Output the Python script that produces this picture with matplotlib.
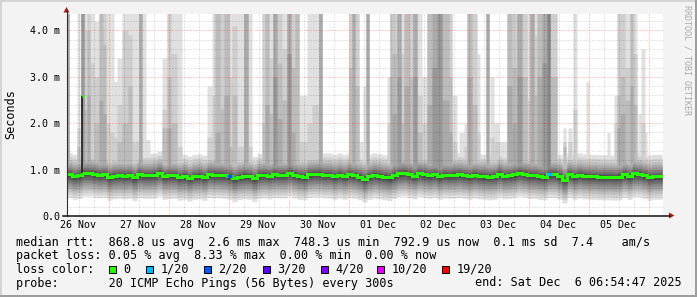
import matplotlib
matplotlib.use("Agg")
import matplotlib.pyplot as plt
from matplotlib.patches import Rectangle, Polygon
import numpy as np

W, H = 697, 297
plt.rcParams['font.family'] = ['DejaVu Sans Mono']

# time axis: hours after 26 Nov 00:00, median sampled in 2 h bins
t_start = 7.4
bin_hours = 2.0
median = [0.90, 0.86, 0.88, 0.93, 0.93, 0.91, 0.89, 0.90, 0.84, 0.87, 0.88, 0.87,
          0.88, 0.83, 0.90, 0.88, 0.88, 0.89, 0.93, 0.86, 0.88, 0.88, 0.84, 0.86,
          0.82, 0.86, 0.87, 0.84, 0.90, 0.89, 0.89, 0.88, 0.86, 0.81, 0.85, 0.87,
          0.86, 0.81, 0.88, 0.89, 0.87, 0.90, 0.89, 0.89, 0.93, 0.89, 0.86, 0.85,
          0.90, 0.91, 0.91, 0.89, 0.89, 0.86, 0.89, 0.86, 0.90, 0.88, 0.85, 0.80,
          0.86, 0.89, 0.87, 0.85, 0.83, 0.88, 0.92, 0.93, 0.90, 0.87, 0.92, 0.90,
          0.88, 0.90, 0.86, 0.89, 0.88, 0.89, 0.90, 0.88, 0.86, 0.89, 0.87, 0.86,
          0.85, 0.86, 0.91, 0.87, 0.88, 0.90, 0.93, 0.91, 0.88, 0.88, 0.86, 0.85,
          0.90, 0.90, 0.86, 0.78, 0.90, 0.86, 0.89, 0.87, 0.86, 0.86, 0.85, 0.85,
          0.85, 0.84, 0.85, 0.90, 0.86, 0.92, 0.91, 0.88, 0.84, 0.86, 0.86]
loss_bins = [32, 96]
loss_level = [2, 1]

# single high median sample on 26 Nov
med_spike_t0, med_spike_t1, med_spike_v = 13.4, 14.2, 2.59

# spread of the 20 pings around the median (ms), outermost pair first
smoke_lo = [-0.50, -0.43, -0.37, -0.31, -0.26, -0.21, -0.16, -0.11, -0.07, -0.03]
smoke_hi = [0.47, 0.38, 0.31, 0.25, 0.20, 0.15, 0.11, 0.07, 0.04, 0.02]
smoke_grey = [224, 206, 188, 170, 152, 134, 116, 98, 80, 62]

# tall outliers: start/end hour, top of the highest pings (4.6 = off scale)
spike_start = [7.4, 11.4, 13.0, 14.2, 15.4, 16.6, 18.2, 20.2, 21.8, 23.0, 24.6, 26.2,
               27.4, 29.4, 31.8, 33.4, 36.2, 37.4, 39.0, 45.4, 47.4, 49.0, 51.4,
               63.4, 65.4, 66.6, 68.6, 70.2, 72.2, 73.4, 75.4, 78.2, 79.8, 85.4, 86.6,
               88.2, 89.8, 91.4, 93.4, 95.4, 97.0, 98.6, 100.2, 103.4, 105.4, 108.2,
               120.2, 121.4, 122.6, 124.2, 125.8, 127.0, 135.4, 136.6, 137.4, 139.4,
               141.0, 142.2, 144.2, 145.8, 147.4, 149.4, 151.4, 153.4, 155.4, 157.4,
               160.2, 161.4, 164.2, 166.2, 167.4, 169.4, 171.4, 175.0, 176.6, 178.2,
               180.2, 183.4, 185.4, 187.4, 189.4, 191.4, 192.6, 194.2, 195.4, 197.4,
               199.4, 200.6, 205.8, 207.8, 209.8, 215.0, 223.4, 226.2, 227.4, 228.6,
               230.6, 232.6, 233.8, 235.8, 237.0, 238.6]
spike_end = [8.2, 12.6, 14.2, 15.4, 16.6, 18.2, 20.2, 21.8, 23.0, 24.6, 26.2, 27.4,
             29.4, 31.8, 33.4, 36.2, 37.4, 39.0, 40.6, 47.4, 49.0, 51.4, 53.4,
             65.4, 66.6, 68.6, 70.2, 72.2, 73.4, 75.4, 78.2, 79.8, 81.4, 86.6, 88.2,
             89.8, 91.4, 93.4, 95.4, 97.0, 98.6, 100.2, 103.4, 105.4, 108.2, 109.4,
             121.4, 122.6, 124.2, 125.8, 127.0, 128.2, 136.6, 137.4, 139.4, 141.0,
             142.2, 144.2, 145.8, 147.4, 149.4, 151.4, 153.4, 155.4, 157.4, 160.2,
             161.4, 163.4, 166.2, 167.4, 169.4, 171.4, 172.6, 176.2, 178.2, 180.2,
             183.4, 185.4, 187.4, 189.4, 191.4, 192.6, 194.2, 195.4, 197.4, 199.4,
             200.6, 203.4, 207.0, 209.4, 211.4, 216.2, 224.6, 227.4, 228.6, 230.6,
             232.6, 233.8, 235.4, 237.0, 238.6, 239.4]
spike_top = [
    [4.6, 4.6, 4.6, 4.6], [4.6, 1.9, 1.5], [4.6, 4.6, 4.6, 4.6, 4.6], [4.6, 4.0, 2.3],
    [4.6, 4.6, 4.0, 2.6], [4.6, 3.3], [4.2, 3.0, 2.0], [4.6, 4.6, 4.6, 2.5],
    [4.6, 4.6, 3.7, 2.2], [4.6, 2.0], [4.6, 1.8], [2.9, 1.7],
    [3.4, 2.4, 1.6], [4.6, 4.0, 2.0], [4.6, 3.9, 2.8], [4.6, 1.6], [4.6, 4.6, 4.6, 4.6],
    [4.6], [1.65], [3.4, 2.3, 1.9], [4.6, 4.6, 3.0, 1.9], [4.6, 3.5, 2.0], [4.6, 1.5],
    [2.8, 1.7], [4.6, 2.6], [4.6, 4.6, 4.6, 1.8], [4.6, 4.6, 2.3], [4.6, 4.6, 4.6, 2.6],
    [4.6, 3.0, 1.5], [4.6, 4.1, 2.6], [4.6, 1.5], [4.6, 4.6, 4.6, 4.6], [4.6, 1.5],
    [4.6, 4.6, 2.0], [4.6, 4.6, 4.6, 2.4], [4.6, 3.4, 2.2], [4.6, 4.6, 4.6, 4.6, 3.0],
    [4.6, 4.6, 3.3, 2.1], [4.6, 3.6, 2.5], [4.6, 4.6, 4.6, 4.6, 3.5], [4.6, 4.6, 3.2, 1.8],
    [4.6, 4.6, 4.6], [2.6, 1.6], [4.6, 2.0], [4.6, 2.4], [4.6, 4.6, 4.6, 4.6],
    [4.6, 4.6, 3.2], [4.6, 4.6, 4.6, 4.6], [4.6, 4.6, 2.8], [1.6], [2.8],
    [4.6, 4.6, 4.6, 4.6], [3.0, 2.0], [4.6, 4.6, 4.6, 3.0], [4.6, 4.6, 3.5, 2.2],
    [4.6, 4.6, 4.6, 4.6, 3.0], [4.6, 3.5, 2.0], [4.6, 4.6, 4.6, 2.8], [4.6, 4.6, 3.0],
    [4.6, 4.6, 4.6, 4.6, 3.0], [4.6, 2.6, 1.8], [3.0, 2.0], [4.6, 4.6, 4.6, 2.4],
    [4.6, 4.6, 4.6, 4.6, 3.2], [4.6, 4.6, 4.6, 4.6, 4.6], [4.6, 4.6, 4.6, 2.5],
    [4.6, 4.6, 3.0, 1.8], [2.6, 1.6], [1.8], [2.0, 1.5], [4.6, 4.6, 4.6, 3.0],
    [4.6, 4.6, 2.4], [3.5, 1.8], [4.6, 4.6, 4.6, 4.6], [3.0, 1.7], [2.0, 1.6],
    [1.6], [4.6, 4.6, 4.6, 2.8], [4.6, 4.6, 3.2, 2.0], [4.6, 4.6, 4.6, 4.6, 3.0],
    [4.6, 4.6, 3.0], [4.6, 2.5], [4.6, 4.6, 4.6, 4.6], [4.6, 3.9, 2.6],
    [4.6, 4.6, 4.6, 3.0], [4.6, 4.6, 4.6, 4.6, 3.3], [4.6, 4.6, 4.6, 4.6, 4.6, 4.6],
    [4.6, 4.6, 3.0], [1.9, 1.6, 1.5], [1.9, 1.6], [4.6, 2.3], [2.9], [1.8], [2.6, 2.0],
    [4.6, 4.6, 2.6, 1.9], [4.6, 4.6, 3.0, 2.2], [4.6, 3.2, 2.5], [4.6, 4.6, 4.6, 2.8],
    [4.6, 3.5, 2.4], [2.2], [3.6, 2.0], [1.8]]

day_labels = ['26 Nov', '27 Nov', '28 Nov', '29 Nov', '30 Nov',
              '01 Dec', '02 Dec', '03 Dec', '04 Dec', '05 Dec']
ytick_vals = [0, 1, 2, 3, 4]
ytick_labels = ['0.0', '1.0 m', '2.0 m', '3.0 m', '4.0 m']

loss_labels = ['0', '1/20', '2/20', '3/20', '4/20', '10/20', '19/20']
loss_colors = ['#26ff00', '#00b8ff', '#0059ff', '#5e00ff', '#7e00ff', '#dd00ff', '#ff0000']

legend_lines = [
    'median rtt:  868.8 us avg  2.6 ms max  748.3 us min  792.9 us now  0.1 ms sd  7.4    am/s',
    'packet loss: 0.05 % avg  8.33 % max  0.00 % min  0.00 % now',
    'loss color:',
    'probe:       20 ICMP Echo Pings (56 Bytes) every 300s',
]
end_text = 'end: Sat Dec  6 06:54:47 2025'

fig = plt.figure(figsize=(W / 100, H / 100), dpi=100, facecolor='#f3f3f3')

ax_left, ax_right, ax_top, ax_bot = 67, 663, 14, 216
ax = fig.add_axes([ax_left / W, (H - ax_bot) / H, (ax_right - ax_left) / W, (ax_bot - ax_top) / H])
ax.set_facecolor('white')
t_end = t_start + bin_hours * len(median)
ax.set_xlim(t_start, 245.8)
ax.set_ylim(0, (ax_bot - ax_top) / 46.4)
for s in ax.spines.values():
    s.set_visible(False)

# smoke
tg = np.arange(t_start, t_end + 0.05, 0.1)
bin_of = np.minimum(((tg - t_start + 1e-6) // bin_hours).astype(int), len(median) - 1)
med_g = np.asarray(median)[bin_of]
for k, g in enumerate(smoke_grey):
    lo = med_g + smoke_lo[k]
    hi = med_g + smoke_hi[k]
    for a, b, tops in zip(spike_start, spike_end, spike_top):
        if len(tops) > k:
            m = (tg >= a - 0.05) & (tg < b - 0.05)
            hi[m] = np.maximum(hi[m], tops[k])
    ax.fill_between(tg, lo, hi, step='post', color='#%02x%02x%02x' % (g, g, g),
                    lw=0, antialiased=False, zorder=1)

# grid
for h in np.arange(6, 246, 6):
    if h < t_start:
        continue
    if h % 24 == 0:
        ax.axvline(h, color=(1, 0, 0, 0.4), lw=0.72, ls=(0, (1, 2)), zorder=3)
    else:
        ax.axvline(h, color=(0, 0, 0, 0.2), lw=0.72, ls=(0, (1, 2)), zorder=3)
for i in range(1, 22):
    v = i * 0.2
    if i % 5 == 0:
        ax.axhline(v, color=(1, 0, 0, 0.4), lw=0.72, ls=(0, (1, 2)), zorder=3)
    else:
        ax.axhline(v, color=(0, 0, 0, 0.2), lw=0.72, ls=(0, (1, 2)), zorder=3)

# median line
edges = t_start + bin_hours * np.arange(len(median) + 1)
ax.plot(edges, list(median) + [median[-1]], drawstyle='steps-post', color='#26ff00',
        lw=2.2, solid_joinstyle='miter', zorder=4)
for b, lv in zip(loss_bins, loss_level):
    ax.hlines(median[b], edges[b], edges[b + 1], colors=loss_colors[lv], lw=2.2, zorder=5)
ax.vlines(med_spike_t0, median[3], med_spike_v, colors='#202020', lw=1.2, zorder=5)
ax.hlines(med_spike_v, med_spike_t0, med_spike_t1, colors='#26ff00', lw=2.2, zorder=5)

ax.set_xticks([12 + 24 * i for i in range(len(day_labels))])
ax.set_xticklabels(day_labels)
ax.set_yticks(ytick_vals)
ax.set_yticklabels(ytick_labels)
ax.tick_params(axis='x', length=0, pad=3, labelsize=7.2)
ax.tick_params(axis='y', length=0, pad=5, labelsize=7.2)

# overlay in pixel coordinates
ov = fig.add_axes([0, 0, 1, 1], zorder=10)
ov.set_xlim(0, W)
ov.set_ylim(H, 0)
ov.axis('off')
ov.patch.set_alpha(0)

ov.add_patch(Rectangle((0, 0), W, 2, color='#d4d4d4', lw=0))
ov.add_patch(Rectangle((0, 0), 2, H, color='#d4d4d4', lw=0))
ov.add_patch(Rectangle((0, H - 2), W, 2, color='#9e9e9e', lw=0))
ov.add_patch(Rectangle((W - 2, 0), 2, H, color='#9e9e9e', lw=0))

ov.plot([66.5, 66.5], [215.5, 10], color='#303030', lw=0.8)
ov.plot([63, 670], [215.5, 215.5], color='#101010', lw=1.1)
ov.add_patch(Polygon([(63.5, 12.5), (69.5, 12.5), (66.5, 7)], color='#a81818', lw=0))
ov.add_patch(Polygon([(669, 212.5), (669, 218.5), (674.5, 215.5)], color='#a81818', lw=0))

ov.text(11, 114, 'Seconds', rotation=90, ha='center', va='center', fontsize=8.45)
ov.text(687, 5, 'RRDTOOL / TOBI OETIKER', rotation=270, ha='center', va='top',
        fontsize=6, color='#aaaaaa')

baselines = [246, 259.5, 273, 286.5]
for txt, yb in zip(legend_lines, baselines):
    ov.text(15.5, yb, txt, ha='left', va='baseline', fontsize=8.45)
ov.text(681.5, baselines[3], end_text, ha='right', va='baseline', fontsize=8.45)

box_x = [109, 146, 204, 263, 321, 377, 442]
for bx, lab, col in zip(box_x, loss_labels, loss_colors):
    ov.add_patch(Rectangle((bx, 266), 7, 7, facecolor=col, edgecolor='black', lw=0.72))
    ov.text(bx + 14.5, baselines[2], lab, ha='left', va='baseline', fontsize=8.45)

fig.savefig('out.png', dpi=100, facecolor=fig.get_facecolor())
